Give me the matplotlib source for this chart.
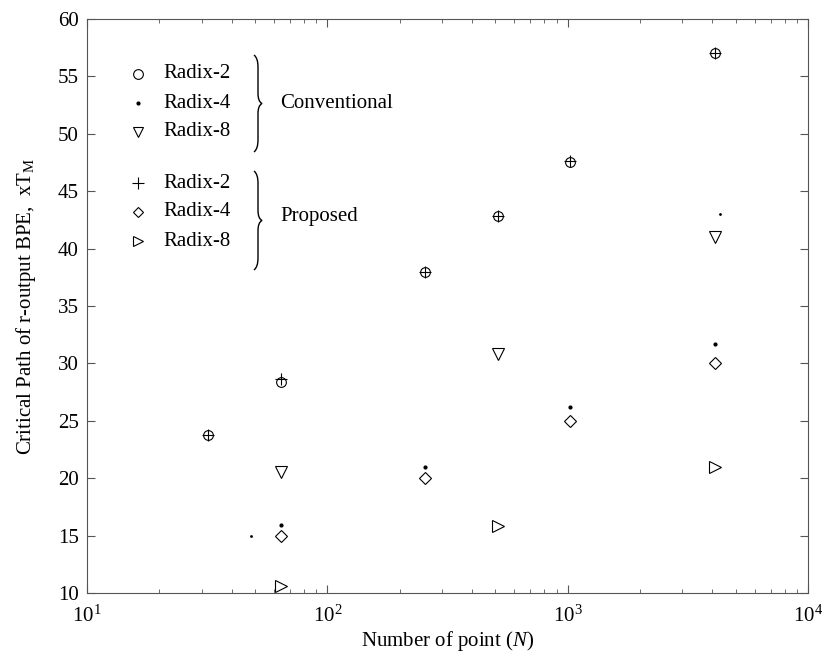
import matplotlib
matplotlib.use("Agg")
import matplotlib.pyplot as plt
from matplotlib.path import Path
from matplotlib.patches import PathPatch
from matplotlib.ticker import LogLocator, FixedLocator

plt.rcParams['font.family'] = ['Liberation Serif', 'DejaVu Serif']
plt.rcParams['mathtext.fontset'] = 'custom'
plt.rcParams['mathtext.rm'] = 'Liberation Serif'
plt.rcParams['mathtext.it'] = 'Liberation Serif:italic'

# Data
conv_r2_n = [32, 64, 256, 512, 1024, 4096]
conv_r2_v = [23.8, 28.4, 38.0, 42.8, 47.5, 57.0]
conv_r4_n = [64, 256, 1024, 4096]
conv_r4_v = [15.9, 21.0, 26.2, 31.7]
conv_r8_n = [64, 512, 4096]
conv_r8_v = [20.5, 30.8, 41.0]
prop_r2_n = [32, 64, 256, 512, 1024, 4096]
prop_r2_v = [23.8, 28.6, 38.0, 42.8, 47.6, 57.0]
prop_r4_n = [64, 256, 1024, 4096]
prop_r4_v = [15.0, 20.0, 25.0, 30.0]
prop_r8_n = [64, 512, 4096]
prop_r8_v = [10.6, 15.8, 21.0]
stray_n = [48, 4300]
stray_v = [15.0, 43.0]

legend_conv = ['Radix-2', 'Radix-4', 'Radix-8']
legend_prop = ['Radix-2', 'Radix-4', 'Radix-8']

fig = plt.figure(figsize=(8.25, 6.59), dpi=100)
ax = fig.add_axes([87/825, 66/659, 721/825, 574/659])

mk = dict(linestyle='none', color='black', markerfacecolor='none', markeredgewidth=0.8)
ax.plot(conv_r2_n, conv_r2_v, marker='o', markersize=7, **mk)
ax.plot(prop_r2_n, prop_r2_v, marker='+', markersize=9, **mk)
ax.plot(conv_r4_n, conv_r4_v, marker='.', markersize=4, linestyle='none', color='black')
ax.plot(conv_r8_n, conv_r8_v, marker='v', markersize=8, **mk)
ax.plot(prop_r4_n, prop_r4_v, marker='D', markersize=6, **mk)
ax.plot(prop_r8_n, prop_r8_v, marker='>', markersize=8, **mk)
ax.plot(stray_n, stray_v, marker='.', markersize=2, linestyle='none', color='black')

ax.set_xscale('log')
ax.set_xlim(10, 1e4)
ax.set_ylim(10, 60)
ax.set_yticks(range(10, 61, 5))
ax.xaxis.set_major_locator(FixedLocator([10, 100, 1000, 10000]))
ax.xaxis.set_minor_locator(LogLocator(base=10, subs=range(2, 10)))
ax.set_xticklabels([r'$\mathregular{10^{1}}$', r'$\mathregular{10^{2}}$',
                    r'$\mathregular{10^{3}}$', r'$\mathregular{10^{4}}$'])
ax.tick_params(which='both', direction='in', top=True, right=True, labelsize=15,
               color='#555555')
ax.tick_params(which='major', length=6)
ax.tick_params(which='minor', length=3)
ax.tick_params(axis='x', which='major', pad=9)
ax.tick_params(axis='y', which='major', pad=6)
for s in ax.spines.values():
    s.set_color('#555555')
    s.set_linewidth(0.8)

ax.set_xlabel(r'Number of point ($\mathit{N}$)', fontsize=15, labelpad=2)
ax.set_ylabel(r'Critical Path of r-output BPE,  xT$_\mathregular{M}$', fontsize=15,
              labelpad=14)

# Custom legend in axes coordinates (pixel positions converted to axes fraction)
def ax_xy(px, py):
    return ((px - 87) / 721, (593 - py) / 574)

leg_markers = [('o', 7), ('.', 4), ('v', 7), ('+', 8), ('D', 5), ('>', 7)]
rows_py = [74, 103, 132, 183, 212, 241]
labels = legend_conv + legend_prop
for (m, ms), py, lab in zip(leg_markers, rows_py, labels):
    x, y = ax_xy(138, py)
    if m == '.':
        ax.plot([x], [y], marker=m, markersize=ms, color='black', transform=ax.transAxes)
    else:
        ax.plot([x], [y], marker=m, markersize=ms, transform=ax.transAxes, **mk)
    tx, ty = ax_xy(163, py)
    ax.text(tx, ty, lab, transform=ax.transAxes, fontsize=15, va='center', ha='left')


def brace(x0, ytop, ybot, w):
    ym = (ytop + ybot) / 2
    v = [ax_xy(x0, ytop), ax_xy(x0 + w, ytop + 3), ax_xy(x0 + w, ytop + 12),
         ax_xy(x0 + w, ym - 10),
         ax_xy(x0 + w, ym - 2), ax_xy(x0 + 2 * w, ym),
         ax_xy(x0 + w, ym + 2), ax_xy(x0 + w, ym + 10),
         ax_xy(x0 + w, ybot - 12),
         ax_xy(x0 + w, ybot - 3), ax_xy(x0, ybot)]
    c = [Path.MOVETO, Path.CURVE3, Path.CURVE3, Path.LINETO,
         Path.CURVE3, Path.CURVE3, Path.CURVE3, Path.CURVE3,
         Path.LINETO, Path.CURVE3, Path.CURVE3]
    p = PathPatch(Path(v, c), transform=ax.transAxes, facecolor='none',
                  edgecolor='black', linewidth=1.0)
    ax.add_patch(p)

brace(254, 55, 152, 4)
brace(254, 171, 270, 4)
cx, cy = ax_xy(280, 103)
ax.text(cx, cy, 'Conventional', transform=ax.transAxes, fontsize=15, va='center', ha='left')
px_, py_ = ax_xy(280, 216)
ax.text(px_, py_, 'Proposed', transform=ax.transAxes, fontsize=15, va='center', ha='left')

fig.savefig('out.png', dpi=100)
